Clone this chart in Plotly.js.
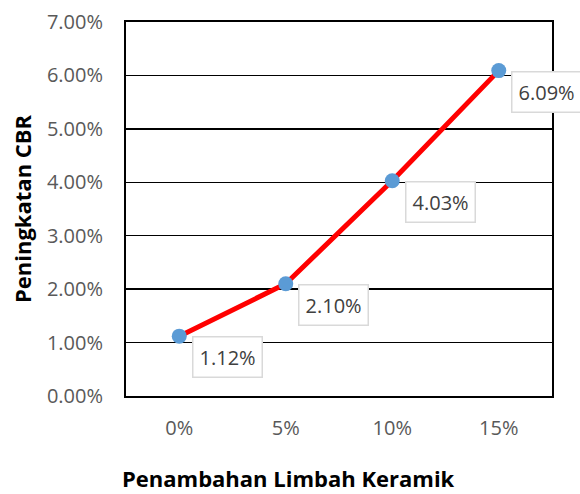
<!DOCTYPE html>
<html><head><meta charset="utf-8">
<script src="https://cdn.plot.ly/plotly-3.0.1.min.js"></script>
<style>html,body{margin:0;padding:0;background:#fff}</style>
</head><body>
<div id="chart" style="width:580px;height:494px"></div>
<script>
const categories = ['0%', '5%', '10%', '15%'];
const values = [1.12, 2.10, 4.03, 6.09];
const xTitle = 'Penambahan Limbah Keramik';
const yTitle = 'Peningkatan CBR';

const W = 580, H = 494;
const m = {l: 126, r: 28, t: 22, b: 98};
const pw = W - m.l - m.r, ph = H - m.t - m.b;

const trace = {
  x: categories, y: values, type: 'scatter', mode: 'lines+markers',
  line: {color: '#ff0000', width: 5},
  marker: {color: '#5b9bd5', size: 15},
  hoverinfo: 'none', cliponaxis: false
};

const labelAnns = categories.map((c, i) => ({
  x: c, y: values[i], xref: 'x', yref: 'y',
  text: values[i].toFixed(2) + '%', showarrow: false,
  xshift: 48, yshift: -21,
  font: {family: 'Open Sans', size: 20, color: '#404040'},
  bgcolor: '#ffffff', bordercolor: '#d9d9d9', borderwidth: 1.5, borderpad: 6
}));

const layout = {
  width: W, height: H, margin: m,
  paper_bgcolor: '#fff', plot_bgcolor: '#fff',
  showlegend: false,
  xaxis: {
    type: 'category', range: [-0.5, 3.5],
    showgrid: false, zeroline: false,
    showline: true, mirror: true, linecolor: '#000', linewidth: 2,
    ticks: '', ticklabelstandoff: 13,
    tickfont: {family: 'Open Sans', size: 20, color: '#595959'}
  },
  yaxis: {
    range: [0, 7], dtick: 1, tick0: 0, tickformat: '.2f', ticksuffix: '%',
    showgrid: true, gridcolor: '#000', gridwidth: 1.5, zeroline: false,
    showline: true, mirror: true, linecolor: '#000', linewidth: 2,
    ticks: '', ticklabelstandoff: 17,
    tickfont: {family: 'Open Sans', size: 20, color: '#595959'}
  },
  annotations: labelAnns.concat([
    {xref: 'paper', yref: 'paper', x: (288 - m.l) / pw, y: (H - m.b - 478) / ph,
     xanchor: 'center', yanchor: 'middle',
     text: '<b>' + xTitle + '</b>', showarrow: false,
     font: {family: 'Open Sans', size: 22, color: '#000'}},
    {xref: 'paper', yref: 'paper', x: (22 - m.l) / pw, y: 0.5, textangle: -90,
     xanchor: 'center', yanchor: 'middle',
     text: '<b>' + yTitle + '</b>', showarrow: false,
     font: {family: 'Open Sans', size: 22, color: '#000'}}
  ])
};

Plotly.newPlot('chart', [trace], layout, {displayModeBar: false, staticPlot: true});
</script>
</body></html>
